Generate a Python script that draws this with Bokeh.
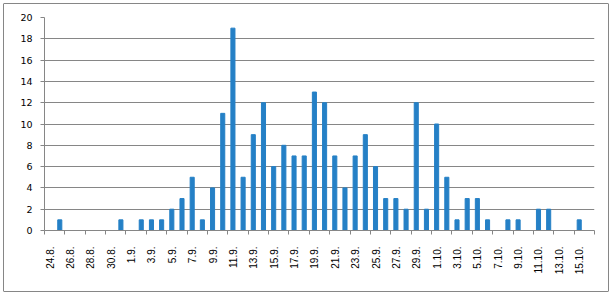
import math
from bokeh.plotting import figure
from bokeh.models import FixedTicker, Range1d, LinearAxis
from bokeh.embed import file_html
from bokeh.resources import INLINE

# Dates (one category per day) and counts
dates = ["24.8.", "25.8.", "26.8.", "27.8.", "28.8.", "29.8.", "30.8.", "31.8.",
         "1.9.", "2.9.", "3.9.", "4.9.", "5.9.", "6.9.", "7.9.", "8.9.", "9.9.", "10.9.",
         "11.9.", "12.9.", "13.9.", "14.9.", "15.9.", "16.9.", "17.9.", "18.9.", "19.9.",
         "20.9.", "21.9.", "22.9.", "23.9.", "24.9.", "25.9.", "26.9.", "27.9.", "28.9.",
         "29.9.", "30.9.", "1.10.", "2.10.", "3.10.", "4.10.", "5.10.", "6.10.", "7.10.",
         "8.10.", "9.10.", "10.10.", "11.10.", "12.10.", "13.10.", "14.10.", "15.10.", "16.10."]
counts = [0, 1, 0, 0, 0, 0, 0, 1,
          0, 1, 1, 1, 2, 3, 5, 1, 4, 11,
          19, 5, 9, 12, 6, 8, 7, 7, 13,
          12, 7, 4, 7, 9, 6, 3, 3, 2,
          12, 2, 10, 5, 1, 3, 3, 1, 0,
          1, 1, 0, 2, 2, 0, 0, 1, 0]
y_ticks = list(range(0, 21, 2))

xs = list(range(len(dates)))
grid_col = "#868686"

p = figure(width=612, height=295, output_backend="svg", toolbar_location=None,
           x_range=Range1d(-0.5, len(dates) - 0.5), y_range=Range1d(0, 20),
           min_border_left=44, min_border_right=18, min_border_top=17, min_border_bottom=65)
p.border_fill_color = None
p.background_fill_color = None
p.styles = {"outline": "1px solid " + grid_col, "outline-offset": "-4px",
            "border-radius": "4px", "background-color": "white"}

p.vbar(x=xs, top=counts, width=0.4, color="#2580C6")

p.outline_line_color = None
p.xgrid.grid_line_color = None
p.ygrid.grid_line_color = grid_col
p.ygrid.grid_line_width = 1

# main x axis: tick marks at day-pair boundaries, no labels
xa = p.xaxis[0]
xa.ticker = FixedTicker(ticks=[i - 0.5 for i in range(0, len(dates) + 1, 2)])
xa.axis_line_color = grid_col
xa.major_tick_line_color = grid_col
xa.major_tick_out = 4
xa.major_tick_in = 0
xa.minor_tick_line_color = None
xa.major_label_text_color = None
xa.major_label_text_font_size = "1px"
xa.major_label_standoff = 0

# label axis: every second date, centred on its bar
label_idx = list(range(0, len(dates), 2))
lab = LinearAxis(ticker=FixedTicker(ticks=label_idx),
                 major_label_overrides={i: dates[i] for i in label_idx},
                 major_label_orientation=math.pi / 2,
                 axis_line_color=None, major_tick_line_color=None,
                 minor_tick_line_color=None, major_tick_out=0, major_tick_in=0,
                 major_label_standoff=12,
                 major_label_text_font="Liberation Sans",
                 major_label_text_font_size="10px",
                 major_label_text_color="#000000")
p.add_layout(lab, "below")

ya = p.yaxis[0]
ya.ticker = FixedTicker(ticks=y_ticks)
ya.axis_line_color = grid_col
ya.major_tick_line_color = grid_col
ya.major_tick_out = 4
ya.major_tick_in = 0
ya.minor_tick_line_color = None
ya.major_label_standoff = 8
ya.major_label_text_font = "DejaVu Sans"
ya.major_label_text_font_size = "9.5px"
ya.major_label_text_color = "#000000"

open("out.html", "w").write(file_html(p, INLINE))
